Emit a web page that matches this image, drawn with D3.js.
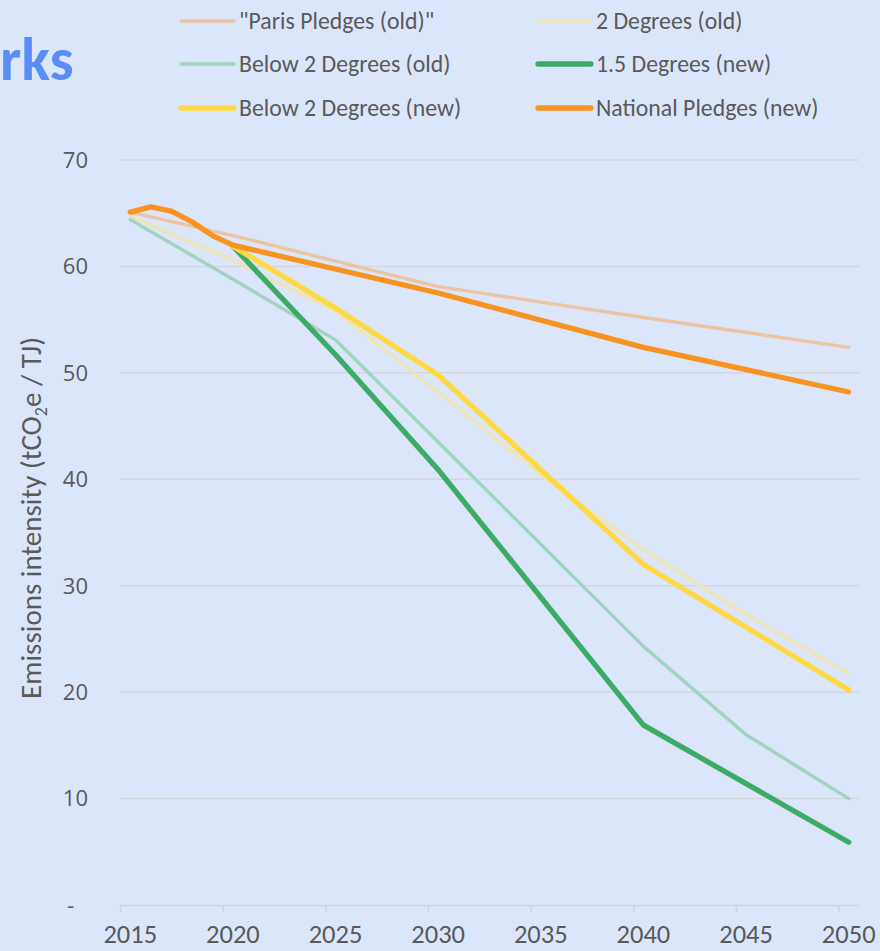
<!DOCTYPE html>
<html>
<head>
<meta charset="utf-8">
<script src="https://cdn.jsdelivr.net/npm/d3@7"></script>
<style>
  html, body { margin: 0; padding: 0; background: #dce6fb; overflow: hidden; }
  svg { display: block; }
</style>
</head>
<body>
<div id="chart"></div>
<script>
// series data
const parisOldYears = [2015, 2020, 2025, 2030, 2040, 2050];
const parisOldValues = [65.1, 62.9, 60.5, 58.1, 55.2, 52.4];

const twoDegOldYears = [2015, 2020, 2025, 2030, 2035, 2040, 2045, 2050];
const twoDegOldValues = [64.7, 60.6, 55.8, 48.2, 40.4, 33.4, 27.3, 21.8];

const below2OldYears = [2015, 2020, 2025, 2040, 2045, 2050];
const below2OldValues = [64.4, 58.8, 53.1, 24.3, 16.0, 10.0];

const onePointFiveYears = [2020, 2025, 2030, 2040, 2050];
const onePointFiveValues = [61.9, 51.7, 40.9, 16.9, 5.9];

const below2NewYears = [2020, 2025, 2030, 2040, 2050];
const below2NewValues = [61.9, 56.1, 49.8, 32.0, 20.2];

const nationalYears = [2015, 2016, 2017, 2018, 2019, 2020, 2030, 2040, 2050];
const nationalValues = [65.1, 65.6, 65.2, 64.2, 62.9, 62.0, 57.5, 52.4, 48.2];

const xTickYears = [2015, 2020, 2025, 2030, 2035, 2040, 2045, 2050];
const yTicks = [0, 10, 20, 30, 40, 50, 60, 70];

const series = [
    { name: "\"Paris Pledges (old)\"", years: parisOldYears, values: parisOldValues, color: "#ebc5a2", width: 3.4 },
    { name: "2 Degrees (old)", years: twoDegOldYears, values: twoDegOldValues, color: "#ede5b6", width: 3.4 },
    { name: "Below 2 Degrees (old)", years: below2OldYears, values: below2OldValues, color: "#a0d3c0", width: 3.4 },
    { name: "1.5 Degrees (new)", years: onePointFiveYears, values: onePointFiveValues, color: "#3cab67", width: 5.3 },
    { name: "Below 2 Degrees (new)", years: below2NewYears, values: below2NewValues, color: "#ffd943", width: 5.3 },
    { name: "National Pledges (new)", years: nationalYears, values: nationalValues, color: "#f7931e", width: 5.3 }
];

const W = 880, H = 951;
const textFont = "Carlito, Lato, 'Open Sans', sans-serif";
const textColor = "#595959";

const svg = d3.select("#chart").append("svg")
    .attr("width", W)
    .attr("height", H);

svg.append("rect").attr("width", W).attr("height", H).attr("fill", "#dce6fb");

// category axis: each year is one band, labels at the centre
const x = d3.scaleLinear().domain([2014.5, 2050.5]).range([120, 859]);
const y = d3.scaleLinear().domain([0, 70]).range([905, 160]);

// gridlines
svg.append("g")
    .selectAll("line")
    .data(yTicks.filter(d => d > 0))
    .enter()
    .append("line")
    .attr("x1", x.range()[0])
    .attr("x2", x.range()[1])
    .attr("y1", d => y(d))
    .attr("y2", d => y(d))
    .attr("stroke", "#d3d6df")
    .attr("stroke-width", 1.5);

// x axis line and tick marks between categories
const xAxis = d3.axisBottom(x)
    .tickValues(xTickYears.map(d => d - 0.5))
    .tickSize(7)
    .tickSizeOuter(0)
    .tickFormat("");

const xg = svg.append("g")
    .attr("transform", `translate(0,${y(0)})`)
    .call(xAxis);
xg.select(".domain").attr("stroke", "#d0d3db").attr("stroke-width", 1.5);
xg.selectAll(".tick line").attr("stroke", "#d0d3db").attr("stroke-width", 1.5);

// x labels
svg.append("g")
    .selectAll("text")
    .data(xTickYears)
    .enter()
    .append("text")
    .attr("x", d => x(d))
    .attr("y", 943)
    .attr("text-anchor", "middle")
    .attr("font-family", textFont)
    .attr("font-size", "26.5px")
    .attr("fill", textColor)
    .text(d => d);

// y labels
svg.append("g")
    .selectAll("text")
    .data(yTicks)
    .enter()
    .append("text")
    .attr("x", d => d === 0 ? 74 : 88)
    .attr("y", d => y(d))
    .attr("dy", "0.36em")
    .attr("text-anchor", "end")
    .attr("font-family", "'Open Sans', sans-serif")
    .attr("font-size", "22px")
    .attr("fill", textColor)
    .text(d => d === 0 ? "-" : d);

// y axis title
const yTitle = svg.append("text")
    .attr("transform", "translate(41,518) rotate(-90)")
    .attr("text-anchor", "middle")
    .attr("font-family", textFont)
    .attr("font-size", "29px")
    .attr("fill", textColor);
yTitle.append("tspan").text("Emissions intensity (tCO");
yTitle.append("tspan").attr("font-size", "18px").attr("dy", "6").text("2");
yTitle.append("tspan").attr("dy", "-6").text("e / TJ)");

// lines
const line = d3.line()
    .x(d => x(d[0]))
    .y(d => y(d[1]));

svg.append("g")
    .selectAll("path")
    .data(series)
    .enter()
    .append("path")
    .attr("d", s => line(s.years.map((yr, i) => [yr, s.values[i]])))
    .attr("fill", "none")
    .attr("stroke", s => s.color)
    .attr("stroke-width", s => s.width)
    .attr("stroke-linecap", "round")
    .attr("stroke-linejoin", "round");

// legend, two columns
const legendCols = [181, 538];
const legendRows = [21, 64, 108];
const legend = svg.append("g")
    .selectAll("g")
    .data(series)
    .enter()
    .append("g")
    .attr("transform", (s, i) => `translate(${legendCols[i % 2]},${legendRows[Math.floor(i / 2)]})`);

legend.append("line")
    .attr("x1", 0)
    .attr("x2", 53)
    .attr("stroke", s => s.color)
    .attr("stroke-width", s => s.width)
    .attr("stroke-linecap", "round");

legend.append("text")
    .attr("x", 58)
    .attr("dy", "0.35em")
    .attr("font-family", textFont)
    .attr("font-size", "23.8px")
    .attr("fill", textColor)
    .text(s => s.name);

// cut-off title fragment
svg.append("text")
    .attr("x", 0)
    .attr("y", 80)
    .attr("font-family", textFont)
    .attr("font-weight", "bold")
    .attr("font-size", "60px")
    .attr("fill", "#5a8cf5")
    .text("rks");
</script>
</body>
</html>
